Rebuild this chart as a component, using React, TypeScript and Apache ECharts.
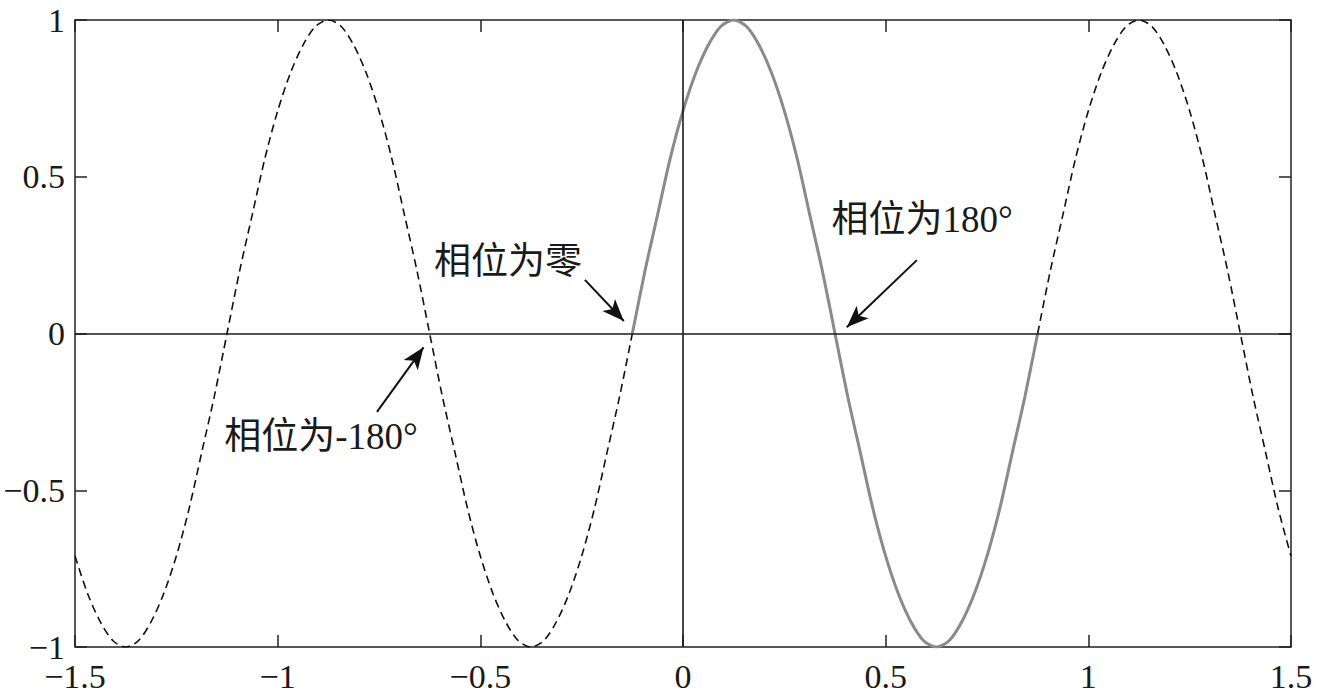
import React, { useEffect, useRef } from "react";
import * as echarts from "echarts";

// sample positions along x
const xs = [
  -1.5, -1.46875, -1.4375, -1.40625, -1.375, -1.34375, -1.3125, -1.28125, -1.25, -1.21875, -1.1875, -1.15625,
  -1.125, -1.09375, -1.0625, -1.03125, -1, -0.96875, -0.9375, -0.90625, -0.875, -0.84375, -0.8125, -0.78125,
  -0.75, -0.71875, -0.6875, -0.65625, -0.625, -0.59375, -0.5625, -0.53125, -0.5, -0.46875, -0.4375, -0.40625,
  -0.375, -0.34375, -0.3125, -0.28125, -0.25, -0.21875, -0.1875, -0.15625, -0.125, -0.09375, -0.0625, -0.03125,
  0, 0.03125, 0.0625, 0.09375, 0.125, 0.15625, 0.1875, 0.21875, 0.25, 0.28125, 0.3125, 0.34375, 0.375, 0.40625,
  0.4375, 0.46875, 0.5, 0.53125, 0.5625, 0.59375, 0.625, 0.65625, 0.6875, 0.71875, 0.75, 0.78125, 0.8125,
  0.84375, 0.875, 0.90625, 0.9375, 0.96875, 1, 1.03125, 1.0625, 1.09375, 1.125, 1.15625, 1.1875, 1.21875, 1.25,
  1.28125, 1.3125, 1.34375, 1.375, 1.40625, 1.4375, 1.46875, 1.5,
];

// curve values read at those positions
const ys = [
  -0.71, -0.83, -0.92, -0.98, -1, -0.98, -0.92, -0.83, -0.71, -0.56, -0.38, -0.2, 0, 0.2, 0.38, 0.56,
  0.71, 0.83, 0.92, 0.98, 1, 0.98, 0.92, 0.83, 0.71, 0.56, 0.38, 0.2, 0, -0.2, -0.38, -0.56,
  -0.71, -0.83, -0.92, -0.98, -1, -0.98, -0.92, -0.83, -0.71, -0.56, -0.38, -0.2, 0, 0.2, 0.38, 0.56,
  0.71, 0.83, 0.92, 0.98, 1, 0.98, 0.92, 0.83, 0.71, 0.56, 0.38, 0.2, 0, -0.2, -0.38, -0.56,
  -0.71, -0.83, -0.92, -0.98, -1, -0.98, -0.92, -0.83, -0.71, -0.56, -0.38, -0.2, 0, 0.2, 0.38, 0.56,
  0.71, 0.83, 0.92, 0.98, 1, 0.98, 0.92, 0.83, 0.71, 0.56, 0.38, 0.2, 0, -0.2, -0.38, -0.56,
  -0.71,
];

// x where the solid (one period) part starts and ends
const solidStart = -0.125;
const solidEnd = 0.875;

const xTicks = [-1.5, -1, -0.5, 0, 0.5, 1, 1.5];
const yTicks = [-1, -0.5, 0, 0.5, 1];

// annotations: label, label centre (x, y), arrow tail (x, y), arrow tip (x, y)
const annotationLabels = ["相位为零", "相位为180°", "相位为-180°"];
const labelPos: [number, number][] = [
  [-0.432, 0.231],
  [0.59, 0.365],
  [-0.893, -0.327],
];
const arrowTail: [number, number][] = [
  [-0.242, 0.171],
  [0.577, 0.234],
  [-0.755, -0.25],
];
const arrowTip: [number, number][] = [
  [-0.146, 0.04],
  [0.404, 0.02],
  [-0.64, -0.044],
];

const FONT = "'Liberation Serif', 'Times New Roman', 'Noto Sans CJK SC', serif";

const fmt = (v: number) => {
  if (v === 0) return "0";
  const s = String(Math.abs(v));
  return v < 0 ? "\u2212" + s : s;
};

export default function App() {
  const ref = useRef<HTMLDivElement>(null);
  useEffect(() => {
    if (!ref.current) return;
    const chart = echarts.init(ref.current, undefined, { renderer: "svg" });
    const pts = xs.map((x, i) => [x, ys[i]]);
    const left = pts.filter((p) => p[0] <= solidStart);
    const mid = pts.filter((p) => p[0] >= solidStart && p[0] <= solidEnd);
    const right = pts.filter((p) => p[0] >= solidEnd);

    const axisCommon = {
      type: "value" as const,
      interval: 0.5,
      axisLine: { show: false, onZero: false },
      splitLine: { show: false },
      axisTick: { show: true, inside: true, length: 12, lineStyle: { color: "#222", width: 1.5 } },
    };

    chart.setOption({
      animation: false,
      backgroundColor: "#fff",
      grid: {
        left: 75,
        right: 26,
        top: 20,
        bottom: 46,
        outerBoundsMode: "none",
        containLabel: false,
        show: true,
        borderColor: "#222",
        borderWidth: 1.5,
        backgroundColor: "transparent",
      },
      xAxis: [
        {
          ...axisCommon,
          min: xTicks[0],
          max: xTicks[xTicks.length - 1],
          position: "bottom",
          axisLabel: {
            formatter: fmt,
            fontFamily: FONT,
            fontSize: 34,
            lineHeight: 34,
            color: "#1a1a1a",
            margin: 12,
            showMinLabel: true,
            showMaxLabel: true,
            hideOverlap: false,
          },
        },
        {
          ...axisCommon,
          min: xTicks[0],
          max: xTicks[xTicks.length - 1],
          position: "top",
          axisLabel: { show: false },
        },
      ],
      yAxis: [
        {
          ...axisCommon,
          min: yTicks[0],
          max: yTicks[yTicks.length - 1],
          position: "left",
          axisLabel: {
            formatter: fmt,
            fontFamily: FONT,
            fontSize: 34,
            lineHeight: 34,
            color: "#1a1a1a",
            margin: 10,
            hideOverlap: false,
          },
        },
        {
          ...axisCommon,
          min: yTicks[0],
          max: yTicks[yTicks.length - 1],
          position: "right",
          axisLabel: { show: false },
        },
      ],
      series: [
        {
          type: "line",
          data: left,
          showSymbol: false,
          smooth: 0.3,
          lineStyle: { color: "#111", width: 1.6, type: [8, 5] },
          z: 3,
          markLine: {
            silent: true,
            symbol: ["none", "none"],
            label: { show: false },
            lineStyle: { color: "#1a1a1a", width: 1.6, type: "solid" },
            data: [{ xAxis: 0 }, { yAxis: 0 }],
          },
        },
        {
          type: "line",
          data: mid,
          showSymbol: false,
          smooth: 0.3,
          lineStyle: { color: "#8a8a8a", width: 3, type: "solid" },
          z: 4,
          markLine: {
            silent: true,
            symbol: ["none", "arrow"],
            symbolSize: [13, 22],
            label: { show: false },
            lineStyle: { color: "#111", width: 2, type: "solid" },
            data: arrowTail.map((t, i) => [{ coord: t }, { coord: arrowTip[i] }]),
          },
          markPoint: {
            silent: true,
            symbol: "circle",
            symbolSize: 0,
            data: annotationLabels.map((name, i) => ({ coord: labelPos[i], value: name })),
            label: {
              show: true,
              formatter: (p: any) => p.value,
              fontFamily: FONT,
              fontSize: 37,
              color: "#1a1a1a",
              position: "inside",
            },
          },
        },
        {
          type: "line",
          data: right,
          showSymbol: false,
          smooth: 0.3,
          lineStyle: { color: "#111", width: 1.6, type: [8, 5] },
          z: 3,
        },
      ],
    });
    return () => chart.dispose();
  }, []);
  return (
    <div
      ref={ref}
      style={{ position: "absolute", left: 0, top: 0, width: 1317, height: 693, background: "#fff" }}
    />
  );
}
